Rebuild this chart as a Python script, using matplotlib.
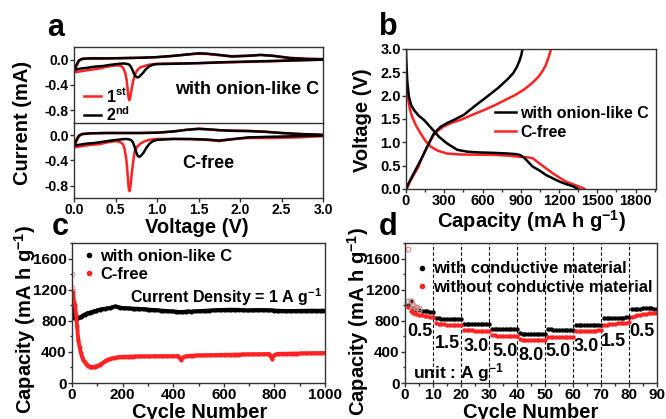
import numpy as np
import matplotlib
matplotlib.use("Agg")
import matplotlib.pyplot as plt
from matplotlib.ticker import MultipleLocator
from matplotlib.lines import Line2D

plt.rcParams['font.family'] = ['Liberation Sans', 'DejaVu Sans']
plt.rcParams['font.weight'] = 'bold'
plt.rcParams['axes.labelweight'] = 'bold'
plt.rcParams['mathtext.fontset'] = 'custom'
plt.rcParams['mathtext.rm'] = 'Liberation Sans:bold'
plt.rcParams['mathtext.bf'] = 'Liberation Sans:bold'
plt.rcParams['mathtext.it'] = 'Liberation Sans:bold'
plt.rcParams['mathtext.default'] = 'rm'
plt.rcParams['axes.edgecolor'] = '#333333'
plt.rcParams['xtick.color'] = '#333333'
plt.rcParams['ytick.color'] = '#333333'
plt.rcParams['xtick.labelcolor'] = 'black'
plt.rcParams['ytick.labelcolor'] = 'black'

RED = '#ff2222'

# ---------------- Panel a: CV data ----------------
# with onion-like C, 1st cycle (red)
a1_red_cath_v = [3.0, 2.7, 2.4, 2.1, 1.8, 1.5, 1.2, 1.0, 0.9, 0.85, 0.80, 0.76, 0.73, 0.71, 0.69, 0.675,
                 0.665, 0.655, 0.645, 0.635, 0.62, 0.60, 0.58, 0.55, 0.50, 0.40, 0.30, 0.20, 0.10, 0.05, 0.0]
a1_red_cath_i = [0.0, -0.01, -0.025, -0.035, -0.045, -0.055, -0.06, -0.065, -0.08, -0.10, -0.12, -0.17,
                 -0.25, -0.35, -0.50, -0.61, -0.64, -0.58, -0.45, -0.33, -0.22, -0.15, -0.11, -0.095,
                 -0.09, -0.11, -0.14, -0.16, -0.18, -0.19, -0.20]
a1_red_anod_v = [0.0, 0.03, 0.06, 0.1, 0.2, 0.4, 0.6, 0.8, 1.0, 1.2, 1.35, 1.5, 1.6, 1.75, 1.9, 2.1,
                 2.25, 2.4, 2.6, 2.8, 3.0]
a1_red_anod_i = [-0.20, -0.10, -0.02, 0.01, 0.02, 0.02, 0.025, 0.03, 0.04, 0.06, 0.08, 0.095, 0.09,
                 0.07, 0.055, 0.065, 0.075, 0.06, 0.03, 0.015, 0.01]
# with onion-like C, 2nd cycle (black)
a1_blk_cath_v = [3.0, 2.7, 2.4, 2.1, 1.8, 1.5, 1.2, 1.0, 0.95, 0.90, 0.86, 0.83, 0.80, 0.78, 0.76, 0.74,
                 0.72, 0.70, 0.68, 0.66, 0.63, 0.60, 0.55, 0.45, 0.35, 0.25, 0.15, 0.08, 0.03, 0.0]
a1_blk_cath_i = [0.0, -0.01, -0.02, -0.03, -0.04, -0.055, -0.065, -0.07, -0.08, -0.11, -0.16, -0.21,
                 -0.25, -0.275, -0.28, -0.26, -0.21, -0.15, -0.10, -0.075, -0.065, -0.06, -0.065,
                 -0.08, -0.10, -0.11, -0.13, -0.14, -0.155, -0.16]
a1_blk_anod_v = [0.0, 0.03, 0.06, 0.1, 0.2, 0.4, 0.6, 0.8, 1.0, 1.2, 1.35, 1.5, 1.6, 1.75, 1.9, 2.1,
                 2.25, 2.4, 2.6, 2.8, 3.0]
a1_blk_anod_i = [-0.16, -0.08, -0.01, 0.015, 0.02, 0.02, 0.025, 0.03, 0.04, 0.06, 0.08, 0.10, 0.095,
                 0.075, 0.05, 0.06, 0.075, 0.06, 0.025, 0.01, 0.005]
# C-free, 1st cycle (red)
a2_red_cath_v = [3.0, 2.7, 2.4, 2.1, 1.9, 1.75, 1.6, 1.4, 1.2, 1.0, 0.9, 0.84, 0.80, 0.76, 0.73, 0.71,
                 0.695, 0.68, 0.67, 0.66, 0.65, 0.64, 0.63, 0.61, 0.59, 0.55, 0.50, 0.40, 0.30, 0.20,
                 0.10, 0.05, 0.0]
a2_red_cath_i = [-0.01, -0.03, -0.04, -0.04, -0.06, -0.09, -0.07, -0.06, -0.055, -0.055, -0.07, -0.10,
                 -0.13, -0.18, -0.26, -0.45, -0.62, -0.82, -0.89, -0.85, -0.70, -0.52, -0.38, -0.22,
                 -0.14, -0.10, -0.09, -0.11, -0.14, -0.15, -0.17, -0.18, -0.19]
a2_red_anod_v = [0.0, 0.03, 0.06, 0.1, 0.2, 0.4, 0.6, 0.8, 1.0, 1.2, 1.35, 1.5, 1.6, 1.75, 1.9, 2.1,
                 2.3, 2.5, 2.7, 2.9, 3.0]
a2_red_anod_i = [-0.19, -0.09, -0.01, 0.02, 0.035, 0.04, 0.04, 0.04, 0.045, 0.065, 0.09, 0.11, 0.10,
                 0.085, 0.08, 0.075, 0.06, 0.04, 0.025, 0.015, 0.01]
# C-free, 2nd cycle (black)
a2_blk_cath_v = [3.0, 2.7, 2.4, 2.1, 1.9, 1.75, 1.6, 1.4, 1.2, 1.0, 0.95, 0.91, 0.87, 0.84, 0.81, 0.79,
                 0.77, 0.75, 0.73, 0.71, 0.69, 0.66, 0.62, 0.55, 0.45, 0.35, 0.25, 0.15, 0.08, 0.03, 0.0]
a2_blk_cath_i = [0.0, -0.01, -0.02, -0.03, -0.06, -0.08, -0.065, -0.055, -0.055, -0.07, -0.09, -0.13,
                 -0.20, -0.27, -0.32, -0.34, -0.33, -0.27, -0.18, -0.11, -0.075, -0.06, -0.055,
                 -0.065, -0.08, -0.10, -0.12, -0.13, -0.145, -0.155, -0.16]
a2_blk_anod_v = [0.0, 0.03, 0.06, 0.1, 0.2, 0.4, 0.6, 0.8, 1.0, 1.2, 1.35, 1.5, 1.6, 1.75, 1.9, 2.1,
                 2.3, 2.5, 2.7, 2.9, 3.0]
a2_blk_anod_i = [-0.16, -0.07, 0.0, 0.025, 0.035, 0.04, 0.04, 0.04, 0.045, 0.065, 0.09, 0.105, 0.10,
                 0.085, 0.075, 0.07, 0.06, 0.04, 0.025, 0.015, 0.01]

# ---------------- Panel b: charge/discharge ----------------
b_blk_dis_cap = [0, 2, 5, 10, 23, 40, 63, 100, 141, 200, 258, 320, 401, 480, 560, 680, 800, 870, 900,
                 930, 993, 1050, 1098, 1150, 1202, 1260, 1307, 1335, 1350]
b_blk_dis_v = [3.0, 2.8, 2.6, 2.3, 1.98, 1.8, 1.69, 1.57, 1.48, 1.3, 1.12, 0.98, 0.84, 0.8, 0.785, 0.775,
               0.76, 0.745, 0.72, 0.66, 0.48, 0.39, 0.30, 0.23, 0.16, 0.10, 0.06, 0.02, 0.0]
b_red_dis_cap = [0, 3, 8, 15, 30, 47, 80, 115, 150, 193, 250, 321, 420, 560, 700, 800, 889, 950, 993,
                 1045, 1100, 1148, 1200, 1253, 1310, 1359, 1385, 1400]
b_red_dis_v = [2.48, 2.2, 2.05, 1.95, 1.72, 1.55, 1.35, 1.19, 1.04, 0.91, 0.82, 0.76, 0.74, 0.735, 0.73,
               0.715, 0.69, 0.68, 0.66, 0.55, 0.44, 0.34, 0.25, 0.16, 0.10, 0.05, 0.02, 0.0]
b_blk_chg_cap = [0, 20, 50, 89, 130, 167, 219, 270, 321, 390, 454, 540, 636, 720, 792, 840, 870, 890,
                 905, 913]
b_blk_chg_v = [0.0, 0.12, 0.28, 0.48, 0.70, 0.91, 1.19, 1.33, 1.41, 1.50, 1.59, 1.78, 1.98, 2.16, 2.34,
               2.48, 2.62, 2.75, 2.88, 3.0]
b_red_chg_cap = [6, 30, 60, 98, 130, 167, 206, 250, 297, 360, 428, 520, 610, 700, 780, 860, 930, 993,
                 1040, 1071, 1095, 1115, 1128, 1137]
b_red_chg_v = [0.0, 0.15, 0.30, 0.48, 0.70, 0.91, 1.12, 1.25, 1.34, 1.42, 1.48, 1.59, 1.69, 1.80, 1.91,
               2.02, 2.14, 2.28, 2.41, 2.53, 2.65, 2.80, 2.91, 3.0]

# ---------------- Panel c: cycling ----------------
c_cycles = [2, 3, 5, 8, 12, 16, 20, 25, 30, 35, 40, 45, 50, 55, 60, 65, 70, 75, 80, 85, 90, 95, 100] + \
           list(range(110, 1001, 10))
c_black = [950, 880, 850, 840, 835, 835, 835, 840, 845, 850, 860, 870, 880, 890, 895, 900, 905, 910, 915,
           920, 925, 930, 935,
           945, 950, 955, 960, 965, 975, 985, 980, 970, 965, 962, 960, 958, 957, 955, 955, 952, 950, 948,
           945, 942, 940, 938, 935, 932, 930, 928, 925, 922, 920, 918, 915, 912, 915, 918, 920, 918, 920,
           922, 925, 926, 928, 930, 932, 933, 935, 936, 938, 940, 940, 941, 942, 942, 941, 942, 940, 938,
           936, 935, 934, 935, 936, 937, 938, 938, 937, 936, 935, 934, 932, 930, 929, 928, 927, 926, 926,
           925, 926, 927, 928, 928, 929, 930, 930, 931, 930, 929, 930, 931, 930]
c_red = [1180, 1150, 1100, 1040, 1000, 880, 730, 555, 460, 390, 335, 297, 270, 250, 232, 220, 212, 208,
         207, 208, 210, 213, 218,
         235, 255, 280, 298, 310, 318, 325, 330, 335, 337, 338, 339, 340, 340, 341, 341, 342, 342, 342,
         343, 343, 343, 344, 344, 344, 345, 345, 345, 345, 345, 345, 345, 300, 330, 345, 348, 350, 352,
         354, 355, 355, 356, 357, 358, 358, 359, 360, 361, 362, 362, 363, 363, 364, 365, 366, 366, 367,
         368, 368, 369, 369, 370, 370, 370, 371, 371, 372, 372, 315, 360, 374, 375, 376, 376, 377, 378,
         378, 379, 379, 380, 380, 381, 381, 382, 383, 383, 384, 384, 385, 385]
c_first_cycle = [1, 1]
c_first_cap = [1400, 1220]

# ---------------- Panel d: rate ----------------
d_cycles = list(range(1, 91))
d_black = [1000, 1050, 960, 945, 935, 930, 925, 920, 915, 912,
           840, 830, 828, 826, 825, 824, 823, 822, 821, 820,
           765, 760, 758, 757, 756, 755, 755, 754, 754, 753,
           700, 697, 695, 694, 693, 692, 692, 691, 691, 690,
           640, 635, 632, 630, 629, 628, 627, 627, 626, 626,
           690, 688, 687, 686, 686, 685, 685, 685, 684, 684,
           752, 752, 751, 751, 750, 750, 750, 750, 749, 749,
           830, 833, 835, 837, 838, 840, 841, 842, 843, 844,
           955, 956, 957, 957, 958, 958, 958, 958, 957, 957]
d_red = [975, 930, 900, 885, 875, 868, 862, 858, 854, 850,
         775, 765, 760, 755, 752, 750, 748, 746, 744, 742,
         685, 680, 678, 676, 675, 674, 673, 672, 671, 670,
         615, 612, 610, 608, 607, 606, 606, 605, 605, 604,
         560, 556, 554, 552, 551, 550, 550, 549, 549, 548,
         595, 594, 593, 592, 592, 591, 591, 590, 590, 590,
         672, 672, 673, 673, 674, 674, 675, 675, 676, 676,
         740, 748, 755, 760, 765, 768, 771, 774, 776, 778,
         850, 862, 872, 880, 886, 892, 897, 900, 903, 905]
d_chg_cycles = [1, 2, 3, 4, 5]
d_black_chg = [1050, 1060, 1000, 975, 960]
d_red_chg = [1720, 1050, 990, 960, 945]
d_rate_labels = ['0.5', '1.5', '3.0', '5.0', '8.0', '5.0', '3.0', '1.5', '0.5']
d_rate_x = [5.2, 15.2, 25.4, 35.7, 45.0, 54.6, 64.8, 74.5, 84.6]
d_rate_y = [660, 514, 467, 402, 360, 402, 467, 531, 660]
d_boundaries = [10, 20, 30, 40, 50, 60, 70, 80]

# ---------------- Figure ----------------
W, H = 666, 419
fig = plt.figure(figsize=(W / 100, H / 100), dpi=100)


def box(l, t, r, b):
    return [l / W, 1 - b / H, (r - l) / W, (b - t) / H]


def style(ax, size, pad=1.2):
    ax.tick_params(which='both', direction='out', width=1, labelsize=size, pad=pad)
    ax.tick_params(which='major', length=3)
    ax.tick_params(which='minor', length=1.8)
    for s in ax.spines.values():
        s.set_linewidth(1.0)
    for lab in ax.get_xticklabels() + ax.get_yticklabels():
        lab.set_fontweight('bold')


# Panel a
axa1 = fig.add_axes(box(74, 47, 323, 123))
axa2 = fig.add_axes(box(74, 123, 323, 198))
for ax, rc, ri, ra, rai, bc, bi, ba, bai in [
        (axa1, a1_red_cath_v, a1_red_cath_i, a1_red_anod_v, a1_red_anod_i,
         a1_blk_cath_v, a1_blk_cath_i, a1_blk_anod_v, a1_blk_anod_i),
        (axa2, a2_red_cath_v, a2_red_cath_i, a2_red_anod_v, a2_red_anod_i,
         a2_blk_cath_v, a2_blk_cath_i, a2_blk_anod_v, a2_blk_anod_i)]:
    ax.plot(rc + ra, ri + rai, color=RED, lw=1.8, solid_joinstyle='round')
    ax.plot(bc + ba, bi + bai, color='black', lw=1.8, solid_joinstyle='round')
    ax.set_xlim(0, 3.0)
    ax.set_ylim(-1.0, 0.2)
    ax.set_yticks([0.0, -0.4, -0.8])
    ax.set_yticklabels(['0.0', '-0.4', '-0.8'])
    ax.set_xticks([0.0, 0.5, 1.0, 1.5, 2.0, 2.5, 3.0])
    style(ax, 10, pad=0.8)
axa1.tick_params(axis='x', which='both', bottom=False, labelbottom=False)
axa1.spines['bottom'].set_visible(False)
h1 = Line2D([], [], color=RED, lw=1.8)
h2 = Line2D([], [], color='black', lw=1.8)
axa1.legend([h1, h2], [r'1$^{st}$', r'2$^{nd}$'], loc='lower left', bbox_to_anchor=(0.0, -0.14),
            frameon=False, fontsize=11.5, handlelength=1.1, handletextpad=0.3, labelspacing=0.05,
            borderaxespad=0.2)
fig.text(247 / W, 1 - 90 / H, 'with onion-like C', ha='center', va='center', fontsize=13,
         fontweight='bold')
fig.text(208 / W, 1 - 163 / H, 'C-free', ha='center', va='center', fontsize=13, fontweight='bold')
fig.text(23 / W, 1 - 123 / H, 'Current (mA)', rotation=90, ha='center', va='center', fontsize=14.5,
         fontweight='bold')
fig.text(197 / W, 1 - 227 / H, 'Voltage (V)', ha='center', va='center', fontsize=14.5, fontweight='bold')

# Panel b
axb = fig.add_axes(box(406, 49, 656, 189))
axb.plot(b_red_dis_cap, b_red_dis_v, color=RED, lw=1.8)
axb.plot(b_red_chg_cap, b_red_chg_v, color=RED, lw=1.8)
axb.plot(b_blk_dis_cap, b_blk_dis_v, color='black', lw=1.8)
axb.plot(b_blk_chg_cap, b_blk_chg_v, color='black', lw=1.8)
axb.set_xlim(0, 1960)
axb.set_ylim(0, 3.0)
axb.set_xticks([0, 300, 600, 900, 1200, 1500, 1800])
axb.xaxis.set_minor_locator(MultipleLocator(150))
axb.set_yticks([0.0, 0.5, 1.0, 1.5, 2.0, 2.5, 3.0])
style(axb, 10.5, pad=0.8)
hb1 = Line2D([], [], color='black', lw=1.8)
hb2 = Line2D([], [], color=RED, lw=1.8)
axb.legend([hb1, hb2], ['with onion-like C', 'C-free'], loc='upper left', bbox_to_anchor=(0.33, 0.64),
           frameon=False, fontsize=11.5, handlelength=1.3, handletextpad=0.3, labelspacing=0.25,
           borderaxespad=0.0)
fig.text(362 / W, 1 - 120 / H, 'Voltage (V)', rotation=90, ha='center', va='center', fontsize=14.5,
         fontweight='bold')
fig.text(531 / W, 1 - 221 / H, r'Capacity (mA h g$^{-1}$)', ha='center', va='center', fontsize=14.5,
         fontweight='bold')

# Panel c
axc = fig.add_axes(box(72, 243, 325, 383))
axc.plot(c_cycles, c_black, color='black', lw=2.8, marker='o', ms=3, mew=0)
axc.plot(c_cycles, c_red, color=RED, lw=2.8, marker='o', ms=3, mew=0)
axc.plot(c_first_cycle, c_first_cap, ls='none', marker='o', ms=3.5, mfc='none',
         mec='#f0a0a0', mew=0.8)
axc.set_xlim(0, 1000)
axc.set_ylim(0, 1800)
axc.set_xticks([0, 200, 400, 600, 800, 1000])
axc.xaxis.set_minor_locator(MultipleLocator(100))
axc.set_yticks([0, 400, 800, 1200, 1600])
axc.yaxis.set_minor_locator(MultipleLocator(200))
style(axc, 11, pad=0.8)
hc1 = Line2D([], [], color='black', ls='none', marker='o', ms=3)
hc2 = Line2D([], [], color=RED, ls='none', marker='o', ms=3)
axc.legend([hc1, hc2], ['with onion-like C', 'C-free'], loc='upper left', bbox_to_anchor=(0.0, 1.03),
           frameon=False, fontsize=12, handlelength=0.8, handletextpad=0.3, labelspacing=0.2,
           borderaxespad=0.2)
axc.text(130 / W, 1 - 297 / H, r'Current Density = 1 A g$^{-1}$', transform=fig.transFigure,
         ha='left', va='center', fontsize=11.5, fontweight='bold')
fig.text(25 / W, 1 - 320 / H, r'Capacity (mA h g$^{-1}$)', rotation=90, ha='center', va='center',
         fontsize=14.5, fontweight='bold')
fig.text(200 / W, 1 - 412 / H, 'Cycle Number', ha='center', va='center', fontsize=14.5,
         fontweight='bold')

# Panel d
axd = fig.add_axes(box(405, 243, 657, 383))
for xb in d_boundaries:
    axd.axvline(xb, color='black', ls=(0, (3, 2)), lw=0.8)
axd.plot(d_cycles, d_black, ls='none', marker='o', ms=3.2, mfc='black', mec='black', mew=0)
axd.plot(d_cycles, d_red, ls='none', marker='o', ms=3.2, mfc=RED, mec=RED, mew=0)
axd.plot(d_chg_cycles, d_black_chg, ls='none', marker='o', ms=3.5, mfc='none', mec='#999999', mew=0.8)
axd.plot(d_chg_cycles, d_red_chg, ls='none', marker='o', ms=3.5, mfc='none', mec='#f08080', mew=0.8)
axd.set_xlim(0, 90)
axd.set_ylim(0, 1800)
axd.set_xticks(list(range(0, 91, 10)))
axd.xaxis.set_minor_locator(MultipleLocator(5))
axd.set_yticks([0, 400, 800, 1200, 1600])
axd.yaxis.set_minor_locator(MultipleLocator(200))
style(axd, 11, pad=0.8)
for lab, xx, yy in zip(d_rate_labels, d_rate_x, d_rate_y):
    axd.text(xx, yy, lab, ha='center', va='center', fontsize=13, fontweight='bold')
axd.text(413 / W, 1 - 373 / H, r'unit : A g$^{-1}$', transform=fig.transFigure, ha='left',
         va='center', fontsize=12.5, fontweight='bold')
hd1 = Line2D([], [], color='black', ls='none', marker='o', ms=3)
hd2 = Line2D([], [], color=RED, ls='none', marker='o', ms=3)
axd.legend([hd1, hd2], ['with conductive material', 'without conductive material'], loc='upper left',
           bbox_to_anchor=(0.0, 0.94), frameon=False, fontsize=12, handlelength=0.8,
           handletextpad=0.3, labelspacing=0.2, borderaxespad=0.2)
fig.text(358 / W, 1 - 322 / H, r'Capacity (mA h g$^{-1}$)', rotation=90, ha='center', va='center',
         fontsize=14.5, fontweight='bold')
fig.text(531 / W, 1 - 412 / H, 'Cycle Number', ha='center', va='center', fontsize=14.5,
         fontweight='bold')

# Panel letters
for letter, x, y in [('a', 56, 36), ('b', 388, 35), ('c', 60, 235), ('d', 388, 235)]:
    fig.text(x / W, 1 - y / H, letter, ha='center', va='baseline', fontsize=22, fontweight='bold')

fig.savefig('out.png', dpi=100)
